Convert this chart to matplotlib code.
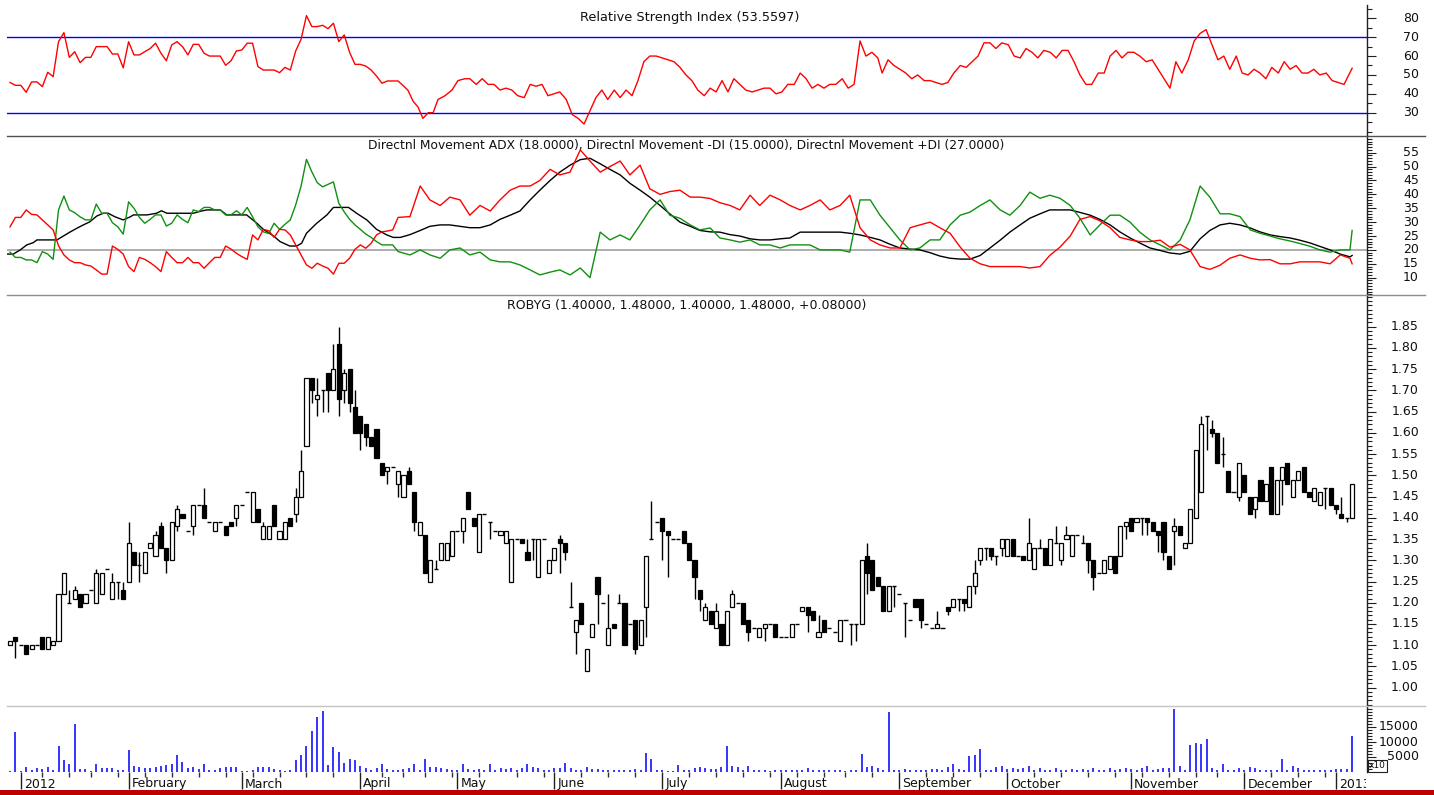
import matplotlib
matplotlib.use("Agg")
import matplotlib.pyplot as plt
import matplotlib.transforms as mtransforms
from matplotlib.lines import Line2D
from matplotlib.patches import Rectangle
from matplotlib.ticker import FixedLocator
import numpy as np

plt.rcParams['font.family'] = ['DejaVu Sans']

# ---------------- data (daily, ROBYG, Dec 2011 - Jan 2013) ----------------
opens = [1.10,1.12,1.10,1.10,1.09,1.10,1.12,1.09,1.10,1.11,
         1.22,1.20,1.21,1.22,1.20,1.23,1.20,1.22,1.28,1.21,
         1.25,1.23,1.25,1.32,1.29,1.27,1.33,1.31,1.38,1.33,
         1.30,1.38,1.41,1.37,1.38,1.43,1.43,1.39,1.37,1.39,
         1.38,1.39,1.40,1.43,1.46,1.39,1.42,1.35,1.35,1.43,
         1.35,1.35,1.40,1.41,1.45,1.57,1.73,1.68,1.70,1.74,
         1.70,1.81,1.70,1.75,1.66,1.64,1.62,1.59,1.61,1.53,
         1.51,1.52,1.48,1.45,1.51,1.46,1.36,1.36,1.25,1.28,
         1.30,1.30,1.31,1.37,1.37,1.46,1.40,1.32,1.41,1.39,
         1.37,1.36,1.34,1.25,1.35,1.35,1.32,1.35,1.26,1.35,
         1.27,1.30,1.35,1.34,1.19,1.13,1.20,1.04,1.12,1.26,
         1.20,1.10,1.15,1.20,1.20,1.15,1.16,1.10,1.19,1.35,
         1.39,1.40,1.37,1.35,1.35,1.37,1.34,1.30,1.23,1.16,
         1.18,1.14,1.15,1.10,1.19,1.20,1.20,1.16,1.14,1.12,
         1.14,1.15,1.15,1.12,1.12,1.12,1.15,1.18,1.19,1.18,
         1.12,1.16,1.14,1.13,1.11,1.16,1.15,1.15,1.15,1.31,
         1.30,1.26,1.24,1.18,1.24,1.22,1.20,1.16,1.21,1.21,
         1.15,1.14,1.14,1.14,1.19,1.19,1.21,1.21,1.19,1.24,
         1.30,1.33,1.33,1.31,1.33,1.31,1.35,1.31,1.31,1.30,
         1.28,1.33,1.33,1.29,1.34,1.30,1.35,1.31,1.36,1.34,
         1.34,1.30,1.27,1.27,1.28,1.31,1.31,1.38,1.40,1.39,
         1.40,1.40,1.39,1.37,1.39,1.31,1.37,1.38,1.33,1.34,
         1.40,1.46,1.64,1.61,1.60,1.55,1.51,1.46,1.45,1.50,
         1.45,1.42,1.49,1.44,1.52,1.41,1.49,1.53,1.45,1.49,
         1.52,1.46,1.44,1.43,1.47,1.47,1.43,1.41,1.40,1.40]
highs = [1.11,1.12,1.10,1.10,1.10,1.10,1.12,1.12,1.11,1.22,
         1.27,1.23,1.24,1.22,1.22,1.23,1.28,1.27,1.28,1.27,
         1.25,1.25,1.39,1.32,1.32,1.32,1.34,1.37,1.39,1.33,
         1.39,1.43,1.41,1.37,1.43,1.43,1.47,1.39,1.39,1.39,
         1.38,1.39,1.43,1.43,1.46,1.46,1.42,1.39,1.38,1.43,
         1.37,1.39,1.40,1.47,1.56,1.73,1.73,1.73,1.70,1.74,
         1.81,1.85,1.75,1.75,1.70,1.64,1.62,1.59,1.61,1.53,
         1.52,1.52,1.51,1.50,1.52,1.46,1.39,1.36,1.30,1.30,
         1.34,1.34,1.37,1.37,1.40,1.46,1.40,1.41,1.41,1.39,
         1.37,1.37,1.37,1.35,1.35,1.35,1.35,1.35,1.35,1.35,
         1.30,1.33,1.36,1.34,1.25,1.16,1.20,1.09,1.15,1.26,
         1.20,1.22,1.15,1.22,1.20,1.15,1.16,1.16,1.31,1.44,
         1.39,1.40,1.37,1.35,1.35,1.37,1.34,1.30,1.23,1.20,
         1.18,1.20,1.15,1.18,1.23,1.20,1.20,1.16,1.14,1.14,
         1.15,1.15,1.15,1.12,1.12,1.15,1.15,1.19,1.19,1.18,
         1.17,1.16,1.14,1.13,1.16,1.16,1.15,1.15,1.30,1.34,
         1.30,1.26,1.24,1.24,1.24,1.22,1.20,1.16,1.21,1.21,
         1.15,1.14,1.18,1.14,1.19,1.21,1.21,1.21,1.24,1.30,
         1.33,1.33,1.33,1.31,1.35,1.35,1.35,1.31,1.31,1.40,
         1.33,1.35,1.33,1.35,1.38,1.34,1.38,1.36,1.36,1.36,
         1.34,1.30,1.27,1.30,1.31,1.31,1.38,1.39,1.40,1.40,
         1.40,1.40,1.39,1.37,1.39,1.31,1.40,1.38,1.34,1.42,
         1.56,1.64,1.64,1.63,1.60,1.59,1.51,1.46,1.53,1.50,
         1.45,1.45,1.49,1.48,1.52,1.49,1.52,1.53,1.49,1.51,
         1.52,1.46,1.47,1.46,1.47,1.47,1.43,1.45,1.40,1.48]
lows = [1.10,1.07,1.10,1.08,1.09,1.10,1.09,1.09,1.10,1.11,
        1.22,1.20,1.21,1.19,1.20,1.23,1.20,1.22,1.28,1.21,
        1.21,1.21,1.25,1.29,1.25,1.27,1.33,1.31,1.33,1.27,
        1.30,1.37,1.40,1.37,1.36,1.43,1.40,1.39,1.37,1.39,
        1.36,1.38,1.38,1.43,1.46,1.39,1.39,1.35,1.35,1.38,
        1.35,1.35,1.38,1.39,1.45,1.57,1.67,1.64,1.65,1.65,
        1.70,1.64,1.67,1.65,1.60,1.56,1.57,1.57,1.54,1.50,
        1.48,1.52,1.45,1.45,1.48,1.37,1.36,1.27,1.25,1.28,
        1.30,1.30,1.31,1.37,1.34,1.42,1.38,1.32,1.41,1.35,
        1.37,1.36,1.34,1.25,1.35,1.34,1.30,1.30,1.26,1.35,
        1.27,1.30,1.27,1.30,1.19,1.08,1.15,1.04,1.12,1.15,
        1.20,1.10,1.14,1.20,1.10,1.15,1.08,1.10,1.12,1.35,
        1.39,1.30,1.26,1.35,1.35,1.34,1.30,1.21,1.18,1.16,
        1.15,1.14,1.10,1.10,1.19,1.20,1.15,1.11,1.14,1.12,
        1.11,1.15,1.12,1.12,1.12,1.12,1.15,1.18,1.13,1.16,
        1.12,1.13,1.14,1.13,1.11,1.16,1.10,1.11,1.15,1.22,
        1.23,1.24,1.18,1.18,1.19,1.22,1.12,1.16,1.19,1.14,
        1.15,1.14,1.14,1.14,1.17,1.19,1.18,1.18,1.19,1.22,
        1.29,1.30,1.30,1.29,1.31,1.31,1.31,1.31,1.30,1.30,
        1.28,1.33,1.29,1.29,1.34,1.29,1.35,1.31,1.36,1.34,
        1.27,1.23,1.27,1.27,1.28,1.27,1.31,1.35,1.37,1.39,
        1.36,1.36,1.37,1.32,1.30,1.28,1.29,1.36,1.33,1.34,
        1.40,1.46,1.56,1.59,1.53,1.52,1.46,1.46,1.44,1.46,
        1.41,1.40,1.44,1.44,1.41,1.41,1.43,1.48,1.45,1.49,
        1.46,1.45,1.44,1.43,1.42,1.43,1.41,1.40,1.39,1.40]
closes = [1.11,1.11,1.10,1.08,1.10,1.10,1.09,1.12,1.11,1.22,
          1.27,1.20,1.23,1.19,1.22,1.23,1.27,1.27,1.28,1.25,
          1.25,1.21,1.34,1.29,1.29,1.32,1.34,1.36,1.33,1.30,
          1.39,1.42,1.40,1.37,1.43,1.43,1.40,1.39,1.39,1.39,
          1.36,1.38,1.43,1.43,1.46,1.46,1.39,1.38,1.38,1.38,
          1.37,1.39,1.38,1.45,1.51,1.73,1.70,1.69,1.70,1.70,
          1.75,1.68,1.74,1.67,1.60,1.60,1.59,1.57,1.54,1.50,
          1.52,1.52,1.51,1.50,1.48,1.39,1.39,1.27,1.30,1.28,
          1.34,1.34,1.37,1.37,1.40,1.42,1.38,1.41,1.41,1.39,
          1.37,1.37,1.37,1.35,1.35,1.34,1.30,1.35,1.35,1.35,
          1.30,1.33,1.34,1.32,1.19,1.16,1.15,1.09,1.15,1.22,
          1.20,1.14,1.14,1.20,1.10,1.15,1.09,1.16,1.31,1.35,
          1.39,1.37,1.36,1.35,1.35,1.34,1.30,1.26,1.21,1.19,
          1.15,1.18,1.10,1.18,1.22,1.20,1.15,1.13,1.14,1.14,
          1.15,1.15,1.12,1.12,1.12,1.15,1.15,1.19,1.17,1.16,
          1.13,1.13,1.14,1.13,1.16,1.16,1.15,1.15,1.30,1.27,
          1.23,1.24,1.18,1.24,1.24,1.22,1.20,1.16,1.19,1.16,
          1.15,1.14,1.15,1.14,1.18,1.21,1.21,1.20,1.24,1.27,
          1.33,1.33,1.31,1.31,1.35,1.35,1.31,1.31,1.30,1.34,
          1.33,1.33,1.29,1.35,1.34,1.34,1.36,1.36,1.36,1.34,
          1.30,1.26,1.27,1.30,1.31,1.27,1.38,1.39,1.37,1.40,
          1.40,1.39,1.37,1.36,1.32,1.28,1.38,1.36,1.34,1.42,
          1.56,1.62,1.64,1.60,1.53,1.55,1.46,1.46,1.53,1.46,
          1.41,1.45,1.44,1.48,1.41,1.49,1.52,1.48,1.49,1.51,
          1.46,1.45,1.47,1.46,1.47,1.43,1.42,1.40,1.40,1.48]
volumes = [400,13300,400,1700,800,1300,1000,1700,800,8600,
           3900,2800,16100,1000,1000,300,2800,1300,1300,1300,
           800,800,7300,1900,1600,1200,1300,1600,1900,2400,
           2800,5700,3300,1300,1700,1000,2700,800,800,1200,
           1600,1600,1600,200,300,800,1600,1600,1600,1100,
           600,400,800,4100,5700,8800,13700,18300,20400,2300,
           8300,6800,3000,4400,3900,2100,1300,800,1300,2700,
           1000,800,800,1000,1300,2800,800,4400,1600,1600,
           1300,1000,800,800,2800,1000,800,1000,800,2800,
           800,1300,1100,1300,800,1300,2700,1600,1300,800,
           800,1200,1300,3000,1300,800,800,1700,1100,1000,
           800,800,800,800,800,800,1000,800,6300,4400,
           800,600,200,200,2300,600,800,1200,1700,1300,
           1000,1000,1700,8600,2100,1700,800,1900,800,600,
           600,300,600,600,600,600,800,800,1200,800,
           800,600,600,800,600,300,800,800,6100,1700,
           1900,1200,800,20000,600,600,1000,600,600,600,
           600,1000,1000,600,1600,2800,1000,800,5400,5700,
           7700,800,800,1700,2100,1000,1200,1000,1200,1900,
           800,1300,600,800,1200,800,800,1000,800,1000,
           800,1200,800,800,1200,800,1000,1200,1000,600,
           1300,1900,800,1000,1300,1200,21100,1900,600,9100,
           9700,9400,11000,1200,800,2600,800,800,1200,800,
           1600,1200,800,800,600,800,4300,600,1900,1200,
           800,800,800,800,800,800,1000,1000,1000,12100]

# RSI samples: day index of sample, value
rsi_early = [46,44.5,44.5,40.8,46.3,46.3,43.8,51.4,49.1,67.6,
             72.4,59.3,62.3,56.5,59.3,59.3,65,65,65,61.1,
             61.1,53.8,67.6,60.6,60.6,62.3,64,66.8,61.5,57.5,
             65.9,67.6,65,60.6,66.2,66.2,61.5,60,60,60,
             55.1,57.5,62.7,63.2,66.8,66.8,54.4,52.6,52.6,52.6,
             51.2,54,52.6,62.7,68.9,81.4,75.6,75.6,76.3,74.5,
             77.4,67.6,71.2,62,55.6,55.6,54.7,52.6,49.4,45.6,
             46.8,46.8,46.8]
rsi_late_day = [73.8,74.8,75.7,76.6,77.6,78.5,79.4,80.7,82.0,83.1,
                84.4,85.3,86.5,87.6,88.7,89.8,90.9,92.0,93.1,94.2,
                95.4,96.5,97.6,98.7,99.8,100.9,102.0,103.2,104.3,105.4,
                106.5,107.6,108.7,109.8,110.9,112.1,113.2,114.3,115.4,116.5,
                117.6,118.7,119.9,121.0,122.1,123.2,124.3,125.4,126.5,127.6,
                128.8,129.9,131.0,132.1,133.2,134.3,135.4,136.5,137.7,138.8,
                139.9,141.0,142.1,143.2,144.3,145.5,146.6,147.7,148.8,149.9,
                151.0,152.1,153.2,154.4,155.5,156.6,157.7,158.8,159.9,161.0,
                161.8,162.9,164.0,165.1,166.2,167.3,168.4,169.6,170.7,171.8,
                172.9,174.0,175.1,176.3,177.4,178.5,179.6,180.7,181.8,182.9,
                184.0,185.2,186.3,187.4,188.5,189.6,190.7,191.8,193.0,194.1,
                195.2,196.3,197.4,198.5,199.6,200.7,201.9,203.0,204.1,205.2,
                206.3,207.4,208.5,209.6,210.8,211.9,213.0,214.1,215.2,216.3,
                217.4,218.6,219.7,220.8,221.9,223.0,224.1,225.2,226.3,227.5,
                228.6,229.7,230.8,231.9,233.0,234.1,235.3,236.4,237.5,238.6,
                239.7,240.8,241.9,243.0,244.2,245.3,246.4,247.5]
rsi_late = [42,36,33,27,30,30,37,39,42,47,
            48,48,45,48,45,45,42,43,42,39,
            38,45,44,45,39,40,41,37,29,27,
            24,31,38,42,37,42,38,42,39,47,
            57,60,60,59,58,57,54,50,47,42,
            39,43,41,47,41,48,45,42,41,42,
            43,43,40,41,45,45,51,48,43,45,
            43,45,45,48,43,45,68,60,62,59,
            51,58,55,53,51,48,50,47,47,46,
            45,46,51,55,54,57,60,67,67,64,
            67,66,60,59,64,62,59,63,62,59,
            63,63,57,50,45,45,51,51,60,63,
            59,62,62,60,57,58,53,48,43,57,
            51,58,68,72,74,66,58,60,53,60,
            51,50,53,51,48,54,51,57,53,55,
            51,51,53,50,51,47,46,45]
rsi_last = 53.5597

# DMI samples
sample_day = [74.2,76.1,77.9,79.8,81.6,83.5,85.3,87.2,89.1,90.9,
              92.8,94.6,96.5,98.3,100.2,102.0,103.9,105.8,107.6,109.5,
              111.3,113.2,115.0,116.9,118.7,120.6,122.4,124.3,126.2,128.0,
              129.9,131.7,133.6,135.4,137.3,139.1,141.0,142.9,144.7,146.6,
              148.4,150.3,152.1,154.0,155.8,157.7,159.6,161.4,163.3,165.1,
              167.0,168.8,170.7,172.5,174.4,176.3,178.1,180.0,181.8,183.7,
              185.5,187.4,189.2,191.1,192.9,194.8,196.7,198.5,200.4,202.2,
              204.1,205.9,207.8,209.6,211.5,213.4,215.2,217.1,218.9,220.8,
              222.6,224.5,226.3,228.2,230.1,231.9,233.8,235.6,237.5,239.3,
              241.2,243.0,244.9,246.8,248.6]
mdi_early = [28.3,31.7,31.7,34.4,32.8,32.6,30.8,29,27.2,21.5,
             18.2,16.4,15.4,15.4,14.6,14.2,12.8,11.3,11.3,21.4,
             20.2,18.5,14,12.2,17.3,16.6,15.4,14,12.2,19.4,
             17.3,15.4,15.4,17.3,15.4,15.4,13.4,15.4,17.3,17.3,
             21.4,20.3,18.8,17.6,16.6,25.4,23.6,27.4,26.9,24.5,
             27.4,27.2,25.4,21.8,18.2,14.6,13.4,15.2,14.2,13.4,
             11.3,15.2,15.2,17,20.2,21.8,20.6,22.4,25.4,26.5,
             26.8,27.2,31.7]
mdi_late = [32,43,38,36,39,38,32.5,36,34,38,
            41.5,43,43,45,49,47,48,56,52,48,
            50,52,47,50.5,42,40,41,41.5,39,39,
            38.5,37,36,34.4,39.7,36,39.7,38,36,34.4,
            36,38,34.4,36,39.7,28,23.6,21.8,20.7,20.7,
            28,29,30,28,26,21,17,15,14,14,
            14,14,13.5,14,18,21,25,31,32,30.5,
            28,24.5,23.6,23,23,23.5,21,22,20,14,
            13,14.5,17,18.2,17,16.4,16.5,15,15,15.7,
            15.7,15.7,15,18.2,17]
mdi_last = 15.0

pdi_early = [19.2,17.3,17.3,16.4,16.4,15.4,19.4,18.5,16.6,34.4,
             39.4,34.4,33.4,31.9,30.8,30.8,36.5,33.2,33.2,29.8,
             28.3,25.7,37.3,35,31.7,29.6,31,32.6,32.6,28.6,
             29.6,32.6,31,29.8,34.4,33.8,35.3,35.3,34.4,34.4,
             32.6,32.6,34.1,32.6,35.3,31.9,28.3,26.5,25.9,29.6,
             27.4,29.2,30.8,36.2,43,52.6,48.1,44.2,42.7,43.6,
             44.5,36.8,33.7,31,29,27.4,25.7,24.5,23,21.8,
             21.8,21.8,19.4]
pdi_late = [18.2,20,18.2,17,20,20.7,18.2,19.2,16.4,15.7,
            15.7,14.6,12.8,11,12,12.8,11,13.5,10,26.4,
            23.6,25.4,23.6,29,34.4,38,32.5,31.4,29,27.2,
            27.9,24.3,23.6,22.8,23.6,21.8,21.8,20.7,21.8,21.8,
            21.8,20,20,20,19.2,38,38,32.5,27.9,23.6,
            20,20.7,23.6,23.6,29,32.5,33.6,36,38,34.4,
            32.5,36,40.8,38.6,39.7,38.6,36,31.4,25.4,29,
            32.5,32.5,30,26.4,23.6,21.8,20,23.6,30.8,43,
            39,33,33,32,27.2,26,25,24,23.2,22.3,
            21.3,20,19.2,20,20]
pdi_last = 27.0

adx_early_day = [-0.5,0.6,1.9,3.1,4.3,5.0,6.2,7.4,8.7,9.9,
                 11.1,12.4,13.6,14.8,16.1,17.3,18.2,19.5,21.0,22.3,
                 22.9,25.4,27.2,28.1,29.1,31.5,34.0,35.3,36.5,39.0,
                 40.2,43.9,45.8,47.0,48.9,50.1,51.9,53.2,54.1,55.0,
                 56.9,58.8,60.0,62.8,64.3,66.2,68.0,69.9,71.1,72.4]
adx_early = [18.5,18.5,20,21.8,22.6,23.6,23.6,23.6,23.6,25,
             26.4,27.8,29,30.1,32.2,33.2,33.2,31.9,30.8,31.9,
             32.6,32.6,33.2,34.1,33.2,33.2,33.2,33.9,34.4,34.4,
             32.6,32.6,29.6,27.4,25,23,21.4,21.4,22.4,26,
             29.6,32.6,35.3,35.3,33.2,30.8,27.4,25.4,24.5,24.5]
adx_late = [25.5,27,28.5,29,29,28.5,28,28,29,31,
            32.5,34,38,41.5,45,48,50.5,52.5,53,51,
            49,47,44,41.5,39,36,33,30,28.5,27,
            26.5,26.4,25.5,25,24,23.6,23.6,24,24.3,26.4,
            26.4,26.4,26.4,26.4,26,25.4,24.5,23.6,22,20.7,
            20.3,20,19,17.8,17,16.7,16.7,18,20.7,23.5,
            26.4,29,31.4,33,34.4,34.4,34.4,33.5,32.5,31,
            29,26.5,24.3,22.5,20.7,19.8,18.9,18.5,19.5,24,
            27,29,29.6,29,27.9,26.5,25.4,24.8,24.3,23.5,
            22.5,21.3,20,18.5,17.5]
adx_last = 18.0

month_days = [2, 22, 43, 65, 83, 101, 121, 143, 165, 185, 208, 229, 246]
month_labels = ['2012', 'February', 'March', 'April', 'May', 'June', 'July',
                'August', 'September', 'October', 'November', 'December', '2013']
week_days = [6, 11, 15, 20, 25, 30, 35, 40, 45, 50, 55, 60, 69, 73, 77, 82, 87,
             94, 99, 106, 111, 116, 126, 131, 136, 141, 146, 151, 155, 160, 170,
             175, 180, 190, 195, 200, 205, 210, 215, 220, 224, 234, 239, 244]

# ---------------- assemble ----------------
o = np.array(opens); h = np.array(highs); l = np.array(lows); c = np.array(closes)
n = min(len(o), len(h), len(l), len(c))
o, h, l, c = o[:n], h[:n], l[:n], c[:n]
days = np.arange(n)
vol = np.array(volumes[:n])
last_day = n - 1

def series(early_days, early_vals, late_days, late_vals, last_val):
    ed = list(early_days); ev = list(early_vals)
    k0 = min(len(ed), len(ev))
    m = min(len(late_days), len(late_vals))
    xs = ed[:k0] + list(late_days[:m]) + [last_day]
    ys = ev[:k0] + list(late_vals[:m]) + [last_val]
    return np.array(xs), np.array(ys)

rx, ry = series(range(len(rsi_early)), rsi_early, rsi_late_day, rsi_late, rsi_last)
mx, my = series(range(len(mdi_early)), mdi_early, sample_day, mdi_late, mdi_last)
px_, py_ = series(range(len(pdi_early)), pdi_early, sample_day, pdi_late, pdi_last)
ax_, ay_ = series(adx_early_day, adx_early, sample_day, adx_late, adx_last)

# ---------------- figure ----------------
W, H = 1434, 795
fig = plt.figure(figsize=(W / 100, H / 100), dpi=100)
fig.patch.set_facecolor('white')
LPX, RPX = 7, 1367

def rect(top, bot):
    return [LPX / W, 1 - bot / H, (RPX - LPX) / W, (bot - top) / H]

ax_rsi = fig.add_axes(rect(5, 136))
ax_dmi = fig.add_axes(rect(136, 295), sharex=ax_rsi)
ax_pr = fig.add_axes(rect(295, 706), sharex=ax_rsi)
ax_vol = fig.add_axes(rect(706, 772), sharex=ax_rsi)
axes = [ax_rsi, ax_dmi, ax_pr, ax_vol]

ax_rsi.set_xlim(-0.56, 251.76)
ax_rsi.set_ylim(17.66, 87.04)
ax_dmi.set_ylim(3.77, 61.01)
ax_pr.set_ylim(0.9569, 1.9246)
ax_vol.set_ylim(0, 22000)

TXT = 9.0
LAB_X = (1419 - LPX) / (RPX - LPX)

for ax in axes:
    ax.set_facecolor('none')
    for s in ['left', 'top', 'bottom']:
        ax.spines[s].set_visible(False)
    ax.spines['right'].set_color('#202020')
    ax.spines['right'].set_linewidth(1.0)
    ax.yaxis.tick_right()
    ax.tick_params(axis='y', which='both', direction='out', colors='#202020',
                   labelright=False, labelleft=False, width=0.8)
    ax.tick_params(axis='y', which='major', length=6.5)
    ax.tick_params(axis='y', which='minor', length=3.6)
    ax.tick_params(axis='x', which='both', bottom=False, top=False,
                   labelbottom=False, labeltop=False)

def ylabels(ax, major, minor, fmt):
    ax.yaxis.set_major_locator(FixedLocator(major))
    ax.yaxis.set_minor_locator(FixedLocator(minor))
    tr = mtransforms.blended_transform_factory(ax.transAxes, ax.transData)
    for v in major:
        ax.text(LAB_X, v, fmt(v), transform=tr, ha='right', va='center',
                fontsize=TXT, color='#101010', clip_on=False)

ylabels(ax_rsi, list(range(30, 81, 10)), list(range(20, 87, 5)), lambda v: f"{v:d}")
ylabels(ax_dmi, list(range(10, 56, 5)), list(range(4, 61, 1)), lambda v: f"{v:d}")
ylabels(ax_pr, [round(1.0 + 0.05 * i, 2) for i in range(18)],
        [round(0.96 + 0.01 * i, 2) for i in range(97)], lambda v: f"{v:.2f}")
ylabels(ax_vol, [5000, 10000, 15000], list(range(1000, 22000, 1000)), lambda v: f"{v:d}")

# RSI panel
ax_rsi.axhline(70, color='#0000ff', lw=1.0)
ax_rsi.axhline(30, color='#0000ff', lw=1.0)
ax_rsi.plot(rx, ry, color='#ff0000', lw=1.0)

# DMI panel
ax_dmi.axhline(20, color='#a0a0a0', lw=1.2)
ax_dmi.plot(ax_, ay_, color='#000000', lw=1.0)
ax_dmi.plot(px_, py_, color='#109010', lw=1.0)
ax_dmi.plot(mx, my, color='#ff0000', lw=1.0)

# Price candles
up = c > o
dn = c < o
fl = c == o
ax_pr.vlines(days, l, h, color='black', lw=1.0, zorder=2)
ax_pr.bar(days[up], (c - o)[up], bottom=o[up], width=0.76, facecolor='white',
          edgecolor='black', linewidth=0.9, zorder=3)
ax_pr.bar(days[dn], (o - c)[dn], bottom=c[dn], width=0.76, facecolor='black',
          edgecolor='black', linewidth=0.9, zorder=3)
ax_pr.hlines(o[fl], days[fl] - 0.38, days[fl] + 0.38, color='black', lw=1.0, zorder=3)

# Volume
ax_vol.vlines(days, 0, vol, color='#3535ff', lw=1.4)

# x axis (month + weekly ticks)
ax_vol.set_xticks(month_days)
ax_vol.set_xticks(week_days, minor=True)
ax_vol.tick_params(axis='x', which='major', bottom=True, length=12.5, width=1.0,
                   color='#202020', direction='out')
ax_vol.tick_params(axis='x', which='minor', bottom=True, length=3.6, width=1.0,
                   color='#303030', direction='out')
lab_tr = mtransforms.offset_copy(
    mtransforms.blended_transform_factory(ax_vol.transData, fig.transFigure),
    fig=fig, x=3, y=0, units='dots')
clipbox = mtransforms.TransformedBbox(
    mtransforms.Bbox([[0, 0], [(RPX - 1) / W, 1]]), fig.transFigure)
for d, lab in zip(month_days, month_labels):
    t = ax_vol.text(d, 1 - 784 / H, lab, transform=lab_tr, ha='left', va='center',
                    fontsize=TXT, color='#101010', clip_on=True)
    t.set_clip_box(clipbox)

# panel titles
def ftxt(xp, yp, s, fs):
    fig.text(xp / W, 1 - yp / H, s, ha='center', va='center', fontsize=fs, color='#101010')

ftxt(690, 17, "Relative Strength Index (53.5597)", 9.3)
ftxt(686, 146, "Directnl Movement ADX (18.0000), Directnl Movement -DI (15.0000), "
               "Directnl Movement +DI (27.0000)", 8.85)
ftxt(687, 305, "ROBYG (1.40000, 1.48000, 1.40000, 1.48000, +0.08000)", 9.0)

# separators
for yp, col in [(136, '#505050'), (295, '#8c8c8c'), (706, '#c4c4c4')]:
    fig.add_artist(Line2D([LPX / W, 1425 / W], [1 - yp / H, 1 - yp / H],
                          color=col, lw=1.0))

# x10 box
fig.add_artist(Rectangle((1368 / W, 1 - 772 / H), 19 / W, 12 / H, fill=False,
                         edgecolor='#202020', lw=0.8, transform=fig.transFigure))
fig.text(1377.5 / W, 1 - 766 / H, "x10", ha='center', va='center', fontsize=6.5, color='#101010')

# bottom red band
fig.add_artist(Rectangle((0, 0), 1, 5.5 / H, facecolor='#c00000', edgecolor='none',
                         transform=fig.transFigure))

fig.savefig("out.png", dpi=100, facecolor='white')
